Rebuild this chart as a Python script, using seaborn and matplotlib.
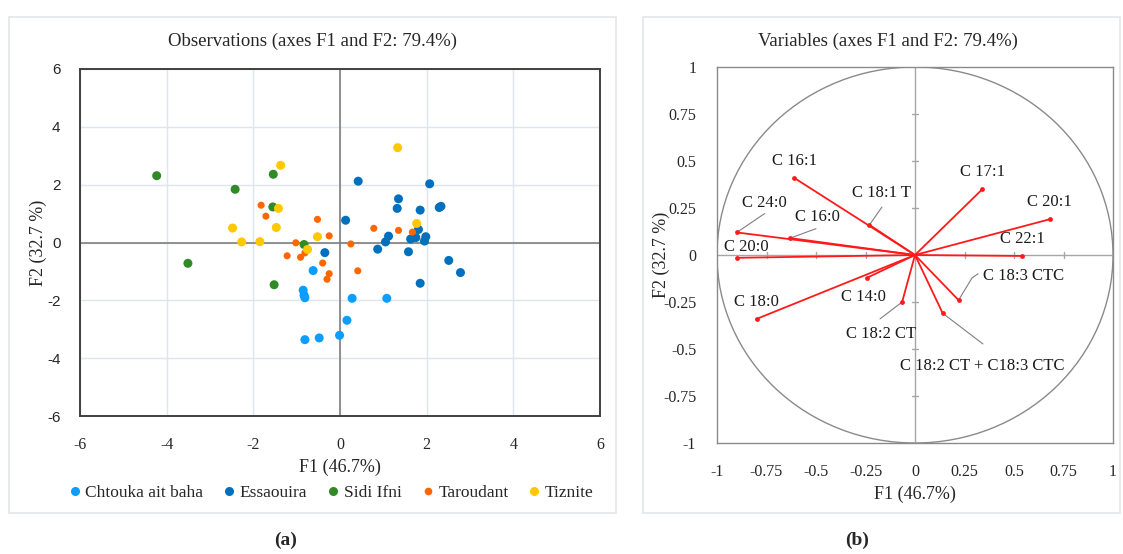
import numpy as np
import pandas as pd
import seaborn as sns
import matplotlib
matplotlib.use("Agg")
import matplotlib.pyplot as plt
from matplotlib.patches import Rectangle, Circle
from matplotlib.lines import Line2D

# ---------------- data: observations ----------------
regions = ["Chtouka ait baha", "Essaouira", "Sidi Ifni", "Taroudant", "Tiznite"]

chtouka_f1 = [-0.62, -0.85, -0.83, -0.81, 0.28, 1.08, -0.81, -0.48, -0.01, 0.16]
chtouka_f2 = [-0.97, -1.65, -1.82, -1.91, -1.93, -1.93, -3.36, -3.30, -3.21, -2.69]

essaouira_f1 = [0.13, -0.35, 0.42, 2.07, 1.35, 1.32, 1.85, 2.29, 2.33, 1.12, 1.05,
                0.87, 1.63, 1.75, 1.81, 1.98, 1.95, 1.58, 2.51, 2.78, 1.85]
essaouira_f2 = [0.77, -0.35, 2.12, 2.03, 1.51, 1.18, 1.12, 1.21, 1.25, 0.22, 0.02,
                -0.23, 0.12, 0.17, 0.45, 0.20, 0.05, -0.32, -0.62, -1.04, -1.41]

sidiifni_f1 = [-4.23, -2.42, -1.54, -1.55, -3.51, -0.83, -1.52]
sidiifni_f2 = [2.31, 1.84, 2.36, 1.23, -0.72, -0.07, -1.46]

taroudant_f1 = [-1.82, -1.71, -0.52, -0.25, -1.02, -1.22, -0.91, -0.81, -0.40, -0.25,
                -0.30, 0.25, 0.78, 1.35, 1.67, 0.41]
taroudant_f2 = [1.29, 0.91, 0.80, 0.23, -0.01, -0.46, -0.51, -0.36, -0.71, -1.08,
                -1.27, -0.05, 0.49, 0.42, 0.36, -0.98]

tiznite_f1 = [-1.37, -1.42, -2.48, -1.47, -2.27, -1.85, -0.52, -0.75, 1.33, 1.77]
tiznite_f2 = [2.67, 1.18, 0.50, 0.52, 0.02, 0.03, 0.20, -0.24, 3.28, 0.66]

# ---------------- data: variables ----------------
var_names = ["C 16:1", "C 18:1 T", "C 24:0", "C 16:0", "C 20:0", "C 17:1", "C 20:1",
             "C 22:1", "C 18:3 CTC", "C 18:2 CT + C18:3 CTC", "C 18:2 CT", "C 14:0", "C 18:0"]
var_f1 = [-0.61, -0.23, -0.90, -0.63, -0.90, 0.34, 0.68, 0.54, 0.22, 0.14, -0.065, -0.24, -0.80]
var_f2 = [0.41, 0.16, 0.12, 0.09, -0.015, 0.35, 0.19, -0.005, -0.24, -0.31, -0.25, -0.12, -0.34]

obs_ticks = [-6, -4, -2, 0, 2, 4, 6]
var_ticks = [-1, -0.75, -0.5, -0.25, 0, 0.25, 0.5, 0.75, 1]
var_ticklabels = ["-1", "-0.75", "-0.5", "-0.25", "0", "0.25", "0.5", "0.75", "1"]

# ---------------- styling ----------------
colors = {"Chtouka ait baha": "#0b9dff", "Essaouira": "#0070bd", "Sidi Ifni": "#2f8a27",
          "Taroudant": "#ff6600", "Tiznite": "#ffc800"}
sizes = {"Chtouka ait baha": 42, "Essaouira": 42, "Sidi Ifni": 42, "Taroudant": 26, "Tiznite": 42}

# label placement (text centre) and optional leader line end, in data units
label_pos = {
    "C 16:1": (-0.61, 0.50, None),
    "C 18:1 T": (-0.17, 0.33, (-0.167, 0.255)),
    "C 24:0": (-0.76, 0.277, (-0.76, 0.22)),
    "C 16:0": (-0.495, 0.20, (-0.50, 0.14)),
    "C 20:0": (-0.85, 0.043, None),
    "C 17:1": (0.343, 0.44, None),
    "C 20:1": (0.677, 0.28, None),
    "C 22:1": (0.54, 0.085, None),
    "C 18:3 CTC": (0.55, -0.11, None),
    "C 18:2 CT + C18:3 CTC": (0.34, -0.59, (0.343, -0.473)),
    "C 18:2 CT": (-0.17, -0.42, (-0.177, -0.34)),
    "C 14:0": (-0.258, -0.223, None),
    "C 18:0": (-0.80, -0.25, None),
}

sns.set_theme(style="white")
plt.rcParams["font.family"] = ["Liberation Serif", "DejaVu Serif"]
plt.rcParams["axes.unicode_minus"] = False
SERIF = ["Liberation Serif", "DejaVu Serif"]
SANS = ["Liberation Sans", "DejaVu Sans"]

W, H = 1123, 554
fig = plt.figure(figsize=(W / 100, H / 100), dpi=100)

def fx(px):
    return px / W

def fy(py):
    return 1 - py / H

# panel boxes
for (x0, x1) in [(9, 616), (643, 1120)]:
    fig.patches.append(Rectangle((fx(x0), fy(513)), fx(x1) - fx(x0), fy(17) - fy(513),
                                 transform=fig.transFigure, fill=False,
                                 edgecolor="#e2e6ea", linewidth=1.2))

# ---------------- left: observations ----------------
rows = []
for reg, xs, ys in [(regions[0], chtouka_f1, chtouka_f2), (regions[1], essaouira_f1, essaouira_f2),
                    (regions[2], sidiifni_f1, sidiifni_f2), (regions[3], taroudant_f1, taroudant_f2),
                    (regions[4], tiznite_f1, tiznite_f2)]:
    for a, b in zip(xs, ys):
        rows.append({"F1": a, "F2": b, "Region": reg})
df = pd.DataFrame(rows)

ax1 = fig.add_axes([fx(80), fy(416), fx(600) - fx(80), fy(69) - fy(416)])
ax1.set_xlim(-6, 6)
ax1.set_ylim(-6, 6)
ax1.set_xticks(obs_ticks)
ax1.set_yticks(obs_ticks)
ax1.grid(True, color="#dde5ee", linewidth=1.0)
ax1.set_axisbelow(True)
ax1.axhline(0, color="#7f7f7f", linewidth=1.2, zorder=1)
ax1.axvline(0, color="#7f7f7f", linewidth=1.2, zorder=1)
sns.scatterplot(data=df, x="F1", y="F2", hue="Region", hue_order=regions, palette=colors,
                size="Region", sizes=sizes, linewidth=0, ax=ax1, legend=False, zorder=3)
for sp in ax1.spines.values():
    sp.set_color("#404040")
    sp.set_linewidth(1.4)
ax1.tick_params(axis="both", length=0)
ax1.tick_params(axis="x", pad=15, labelsize=11.5)
ax1.tick_params(axis="y", pad=14, labelsize=11)
for t in ax1.get_xticklabels():
    t.set_family(SERIF)
for t in ax1.get_yticklabels():
    t.set_family(SANS)
ax1.set_xlabel("F1 (46.7%)", fontsize=13, family=SERIF)
ax1.set_ylabel("F2 (32.7 %)", fontsize=13, family=SERIF)
ax1.xaxis.set_label_coords(0.5, -0.122)
ax1.yaxis.set_label_coords(-0.064, 0.5)

fig.text(fx(312), fy(41), "Observations (axes F1 and F2: 79.4%)", ha="center", va="center",
         fontsize=13.5, family=SERIF)

handles = [Line2D([0], [0], marker="o", linestyle="", markersize=(5.5 if r == "Taroudant" else 6.5),
                  markerfacecolor=colors[r], markeredgewidth=0) for r in regions]
fig.legend(handles, regions, loc="center", bbox_to_anchor=(fx(330), fy(493)), ncol=5, frameon=False,
           handletextpad=0.1, columnspacing=1.0, handlelength=1.0,
           prop={"family": SERIF, "size": 12.5})

# ---------------- right: variables ----------------
ax2 = fig.add_axes([fx(717), fy(443), fx(1113) - fx(717), fy(67) - fy(443)])
ax2.set_xlim(-1, 1)
ax2.set_ylim(-1, 1)
ax2.add_patch(Circle((0, 0), 1, fill=False, edgecolor="#8a8a8a", linewidth=1.0))
ax2.axhline(0, color="#a6a6a6", linewidth=1.0, zorder=1)
ax2.axvline(0, color="#a6a6a6", linewidth=1.0, zorder=1)
# small cross ticks on central axes
for t in var_ticks:
    if t in (-1, 0, 1):
        continue
    ax2.plot([t, t], [-0.017, 0.017], color="#a6a6a6", linewidth=1.0, zorder=1)
    ax2.plot([-0.017, 0.017], [t, t], color="#a6a6a6", linewidth=1.0, zorder=1)

vdf = pd.DataFrame({"F1": var_f1, "F2": var_f2, "name": var_names})
for _, r in vdf.iterrows():
    ax2.plot([0, r.F1], [0, r.F2], color="#ff1a1a", linewidth=1.3, zorder=3)
sns.scatterplot(data=vdf, x="F1", y="F2", color="#ff1a1a", s=12, linewidth=0, ax=ax2, zorder=4)

for _, r in vdf.iterrows():
    tx, ty, lead = label_pos[r["name"]]
    ax2.text(tx, ty, r["name"], ha="center", va="center", fontsize=12, family=SERIF, color="#1a1a1a")
    if lead is not None:
        ax2.plot([r.F1, lead[0]], [r.F2, lead[1]], color="#7f7f7f", linewidth=0.8, zorder=2)
# bent leader for C 18:3 CTC
i = var_names.index("C 18:3 CTC")
ax2.plot([var_f1[i], 0.288, 0.318], [var_f2[i], -0.122, -0.10], color="#7f7f7f", linewidth=0.8, zorder=2)

ax2.set_xticks(var_ticks)
ax2.set_yticks(var_ticks)
ax2.set_xticklabels(var_ticklabels, family=SERIF)
ax2.set_yticklabels(var_ticklabels, family=SERIF)
ax2.tick_params(axis="both", length=0, labelsize=11.5)
ax2.tick_params(axis="x", pad=15)
ax2.tick_params(axis="y", pad=15)
for sp in ax2.spines.values():
    sp.set_color("#8a8a8a")
    sp.set_linewidth(1.0)
ax2.set_xlabel("F1 (46.7%)", fontsize=13, family=SERIF)
ax2.set_ylabel("F2 (32.7 %)", fontsize=13, family=SERIF)
ax2.xaxis.set_label_coords(0.5, -0.114)
ax2.yaxis.set_label_coords(-0.119, 0.5)

fig.text(fx(888), fy(41), "Variables (axes F1 and F2: 79.4%)", ha="center", va="center",
         fontsize=13.5, family=SERIF)

fig.text(fx(286), fy(540), "(a)", ha="center", va="center", fontsize=14, fontweight="bold", family=SERIF)
fig.text(fx(857), fy(540), "(b)", ha="center", va="center", fontsize=14, fontweight="bold", family=SERIF)

fig.savefig("out.png", dpi=100, facecolor="white")
